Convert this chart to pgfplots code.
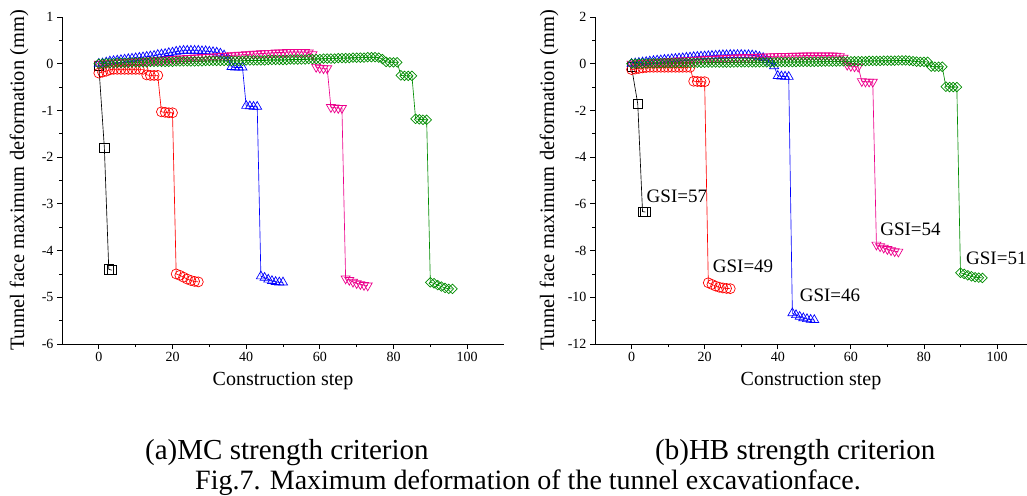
\documentclass[border=0pt]{standalone}
\usepackage{fontspec}
\setmainfont{Liberation Serif}
\usepackage{pgfplots}
\pgfplotsset{compat=1.18}
\definecolor{mgreen}{RGB}{0,140,0}
\pgfplotsset{
  myaxis/.style={
    scale only axis, height=327pt,
    axis x line*=bottom, axis y line*=left,
    axis line style={-, line width=0.9pt, black},
    tick align=outside,
    major tick length=5pt, minor tick length=3pt,
    every tick/.style={black, line width=0.8pt},
    minor x tick num=1, minor y tick num=1,
    xtick={0,20,...,100},
    ticklabel style={font=\fontsize{14}{14}\selectfont},
    /pgf/number format/assume math mode=true,
    xlabel={Construction step},
    ylabel={Tunnel face maximum deformation (mm)},
    xlabel style={font=\fontsize{20}{20}\selectfont, at={(axis description cs:0.5,0)}, anchor=base, yshift=-41pt},
    ylabel style={font=\fontsize{20.5}{20.5}\selectfont, anchor=center},
    every axis plot/.append style={line width=0.65pt, mark options={solid, line width=0.7pt}},
  },
  sq/.style={black, mark=square, mark size=4.6pt},
  ci/.style={red, mark=o, mark size=5pt},
  tu/.style={blue, mark=triangle, mark size=5.2pt},
  td/.style={magenta, mark=triangle, mark size=5.2pt, mark options={rotate=180, solid, line width=0.7pt}},
  di/.style={mgreen, mark=diamond, mark size=4.8pt, mark options={xscale=1.35, solid, line width=0.7pt}},
}
\begin{document}
\begin{tikzpicture}
\useasboundingbox (0,0) rectangle (1027pt,-495pt);
% ---------------- (a) MC ----------------
\begin{axis}[myaxis, at={(62pt,-344pt)}, anchor=south west, width=442pt,
  xmin=-10, xmax=110, ymin=-6, ymax=1, ytick={-6,-5,...,1},
  ylabel style={at={(axis description cs:-0.097,0.5)}}]
\addplot[sq] coordinates {(0,-0.05) (1.5,-1.8) (2.7,-4.4) (3.5,-4.42)};
\addplot[ci] coordinates {(0,-0.2) (1,-0.18) (2,-0.16) (3,-0.13) (4,-0.12) (5,-0.12) (6,-0.12) (7,-0.12) (8,-0.12) (9,-0.12) (10,-0.12) (11,-0.12) (12,-0.12) (13,-0.24) (14,-0.25) (15,-0.25) (16,-0.25) (17,-1.03) (18,-1.04) (19,-1.05) (20,-1.05) (21,-4.5) (22,-4.53) (23,-4.57) (24,-4.61) (25,-4.64) (26,-4.66) (27,-4.67)};
\addplot[tu] coordinates {(0,0) (1,0.01) (2,0.03) (3,0.05) (4,0.06) (5,0.07) (6,0.08) (7,0.09) (8,0.1) (9,0.11) (10,0.12) (11,0.13) (12,0.14) (13,0.15) (14,0.16) (15,0.17) (16,0.19) (17,0.2) (18,0.21) (19,0.23) (20,0.24) (21,0.26) (22,0.27) (23,0.28) (24,0.28) (25,0.28) (26,0.28) (27,0.28) (28,0.27) (29,0.27) (30,0.26) (31,0.25) (32,0.24) (33,0.22) (34,0.18) (35,0.12) (36,-0.07) (37,-0.08) (38,-0.08) (39,-0.08) (40,-0.9) (41,-0.91) (42,-0.92) (43,-0.92) (44,-4.55) (45,-4.58) (46,-4.62) (47,-4.65) (48,-4.67) (49,-4.68) (50,-4.68)};
\addplot[td] coordinates {(0,0) (1,0) (2,0.01) (3,0.01) (4,0.02) (5,0.02) (6,0.03) (7,0.03) (8,0.04) (9,0.04) (10,0.05) (11,0.05) (12,0.06) (13,0.06) (14,0.07) (15,0.07) (16,0.08) (17,0.08) (18,0.09) (19,0.09) (20,0.1) (21,0.1) (22,0.11) (23,0.11) (24,0.12) (25,0.12) (26,0.13) (27,0.13) (28,0.14) (29,0.14) (30,0.15) (31,0.15) (32,0.16) (33,0.16) (34,0.17) (35,0.17) (36,0.18) (37,0.18) (38,0.19) (39,0.19) (40,0.2) (41,0.2) (42,0.21) (43,0.21) (44,0.22) (45,0.22) (46,0.23) (47,0.23) (48,0.24) (49,0.24) (50,0.24) (51,0.25) (52,0.25) (53,0.25) (54,0.25) (55,0.25) (56,0.25) (57,0.24) (58,0.2) (59,-0.07) (60,-0.09) (61,-0.1) (62,-0.1) (63,-0.93) (64,-0.94) (65,-0.95) (66,-0.95) (67,-4.6) (68,-4.63) (69,-4.67) (70,-4.7) (71,-4.72) (72,-4.74) (73,-4.75)};
\addplot[di] coordinates {(0,0) (1,0) (2,0.01) (3,0.01) (4,0.01) (5,0.02) (6,0.02) (7,0.02) (8,0.02) (9,0.03) (10,0.03) (11,0.03) (12,0.03) (13,0.03) (14,0.04) (15,0.04) (16,0.04) (17,0.04) (18,0.04) (19,0.04) (20,0.04) (21,0.05) (22,0.05) (23,0.05) (24,0.05) (25,0.05) (26,0.05) (27,0.05) (28,0.05) (29,0.06) (30,0.06) (31,0.06) (32,0.06) (33,0.06) (34,0.06) (35,0.06) (36,0.06) (37,0.06) (38,0.06) (39,0.06) (40,0.07) (41,0.07) (42,0.07) (43,0.07) (44,0.07) (45,0.07) (46,0.08) (47,0.08) (48,0.08) (49,0.08) (50,0.08) (51,0.08) (52,0.09) (53,0.09) (54,0.09) (55,0.09) (56,0.09) (57,0.1) (58,0.1) (59,0.1) (60,0.1) (61,0.11) (62,0.11) (63,0.11) (64,0.11) (65,0.12) (66,0.12) (67,0.12) (68,0.12) (69,0.13) (70,0.13) (71,0.13) (72,0.13) (73,0.14) (74,0.14) (75,0.14) (76,0.13) (77,0.1) (78,0.04) (79,0.03) (80,0.03) (81,0.03) (82,-0.25) (83,-0.26) (84,-0.26) (85,-0.26) (86,-1.18) (87,-1.19) (88,-1.2) (89,-1.2) (90,-4.68) (91,-4.7) (92,-4.74) (93,-4.77) (94,-4.8) (95,-4.82) (96,-4.82)};
\end{axis}
% ---------------- (b) HB ----------------
\begin{axis}[myaxis, at={(595pt,-344pt)}, anchor=south west, width=432pt,
  xmin=-10, xmax=108.2, ymin=-12, ymax=2, ytick={-12,-10,...,2},
  ylabel style={at={(axis description cs:-0.106,0.5)}}]
\addplot[sq] coordinates {(0,-0.15) (1.7,-1.72) (3,-6.33) (3.8,-6.35)};
\addplot[ci] coordinates {(0,-0.25) (1,-0.23) (2,-0.2) (3,-0.18) (4,-0.16) (5,-0.15) (6,-0.15) (7,-0.15) (8,-0.15) (9,-0.15) (10,-0.15) (11,-0.15) (12,-0.15) (13,-0.15) (14,-0.15) (15,-0.15) (16,-0.15) (17,-0.75) (18,-0.76) (19,-0.77) (20,-0.77) (21,-9.38) (22,-9.45) (23,-9.52) (24,-9.57) (25,-9.6) (26,-9.62) (27,-9.63)};
\addplot[tu] coordinates {(0,0) (1,0.02) (2,0.04) (3,0.06) (4,0.08) (5,0.1) (6,0.12) (7,0.14) (8,0.15) (9,0.17) (10,0.18) (11,0.2) (12,0.21) (13,0.23) (14,0.24) (15,0.26) (16,0.27) (17,0.29) (18,0.3) (19,0.31) (20,0.32) (21,0.33) (22,0.34) (23,0.35) (24,0.36) (25,0.37) (26,0.37) (27,0.38) (28,0.38) (29,0.38) (30,0.38) (31,0.37) (32,0.37) (33,0.36) (34,0.34) (35,0.3) (36,0.25) (37,0.15) (38,0.05) (39,-0.1) (40,-0.52) (41,-0.54) (42,-0.55) (43,-0.56) (44,-10.68) (45,-10.76) (46,-10.83) (47,-10.89) (48,-10.93) (49,-10.96) (50,-10.97)};
\addplot[td] coordinates {(0,0) (1,0.01) (2,0.02) (3,0.03) (4,0.04) (5,0.05) (6,0.06) (7,0.07) (8,0.08) (9,0.09) (10,0.1) (11,0.11) (12,0.12) (13,0.13) (14,0.13) (15,0.14) (16,0.15) (17,0.16) (18,0.17) (19,0.18) (20,0.19) (21,0.2) (22,0.21) (23,0.21) (24,0.22) (25,0.23) (26,0.24) (27,0.25) (28,0.25) (29,0.26) (30,0.27) (31,0.27) (32,0.28) (33,0.28) (34,0.29) (35,0.3) (36,0.3) (37,0.31) (38,0.31) (39,0.32) (40,0.32) (41,0.33) (42,0.33) (43,0.33) (44,0.34) (45,0.34) (46,0.34) (47,0.35) (48,0.35) (49,0.35) (50,0.35) (51,0.35) (52,0.35) (53,0.35) (54,0.35) (55,0.35) (56,0.34) (57,0.32) (58,0.25) (59,-0.05) (60,-0.1) (61,-0.12) (62,-0.13) (63,-0.75) (64,-0.77) (65,-0.77) (66,-0.78) (67,-7.75) (68,-7.82) (69,-7.88) (70,-7.94) (71,-7.99) (72,-8.03) (73,-8.05)};
\addplot[di] coordinates {(0,0) (1,0) (2,0.01) (3,0.01) (4,0.01) (5,0.02) (6,0.02) (7,0.02) (8,0.02) (9,0.03) (10,0.03) (11,0.03) (12,0.03) (13,0.03) (14,0.04) (15,0.04) (16,0.04) (17,0.04) (18,0.04) (19,0.04) (20,0.04) (21,0.05) (22,0.05) (23,0.05) (24,0.05) (25,0.05) (26,0.05) (27,0.05) (28,0.05) (29,0.06) (30,0.06) (31,0.06) (32,0.06) (33,0.06) (34,0.06) (35,0.06) (36,0.06) (37,0.06) (38,0.06) (39,0.06) (40,0.07) (41,0.07) (42,0.07) (43,0.07) (44,0.07) (45,0.07) (46,0.08) (47,0.08) (48,0.08) (49,0.08) (50,0.08) (51,0.08) (52,0.09) (53,0.09) (54,0.09) (55,0.09) (56,0.09) (57,0.1) (58,0.1) (59,0.1) (60,0.1) (61,0.11) (62,0.11) (63,0.11) (64,0.11) (65,0.12) (66,0.12) (67,0.12) (68,0.12) (69,0.13) (70,0.13) (71,0.13) (72,0.13) (73,0.14) (74,0.14) (75,0.14) (76,0.13) (77,0.11) (78,0.09) (79,0.08) (80,0.08) (81,0.08) (82,-0.12) (83,-0.13) (84,-0.13) (85,-0.13) (86,-0.98) (87,-1.0) (88,-1.0) (89,-1.0) (90,-8.95) (91,-9.0) (92,-9.06) (93,-9.1) (94,-9.14) (95,-9.16) (96,-9.17)};
\node[anchor=base west, font=\fontsize{19}{19}\selectfont, inner sep=0pt] at (axis cs:4.1,-5.95) {GSI=57};
\node[anchor=base west, font=\fontsize{19}{19}\selectfont, inner sep=0pt] at (axis cs:22.2,-8.95) {GSI=49};
\node[anchor=base west, font=\fontsize{19}{19}\selectfont, inner sep=0pt] at (axis cs:46,-10.19) {GSI=46};
\node[anchor=base west, font=\fontsize{19}{19}\selectfont, inner sep=0pt] at (axis cs:68,-7.36) {GSI=54};
\node[anchor=base west, font=\fontsize{19}{19}\selectfont, inner sep=0pt] at (axis cs:91.5,-8.6) {GSI=51};
\end{axis}
% captions
\node[anchor=base west, inner sep=0pt, font=\fontsize{29}{29}\selectfont] at (145pt,-459pt) {(a)MC strength criterion};
\node[anchor=base west, inner sep=0pt, font=\fontsize{29}{29}\selectfont] at (655pt,-459pt) {(b)HB strength criterion};
\node[anchor=base west, inner sep=0pt, font=\fontsize{28}{28}\selectfont] at (195pt,-489pt) {Fig.7. Maximum deformation of the tunnel excavationface.};
\end{tikzpicture}
\end{document}
